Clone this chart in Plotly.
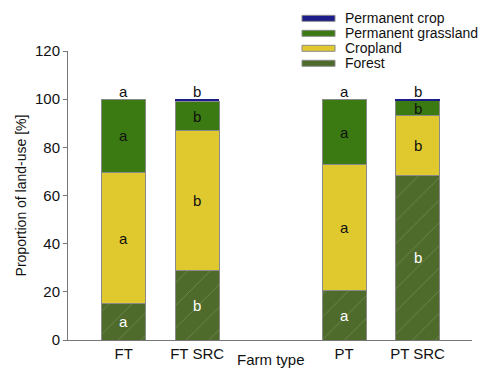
import plotly.graph_objects as go

categories = ["FT", "FT SRC", "PT", "PT SRC"]
positions = [0, 1, 3, 4]
forest = [15.0, 28.7, 20.7, 68.4]
cropland = [54.5, 58.2, 52.0, 24.7]
grassland = [30.5, 12.2, 27.3, 6.2]
perm_crop = [0.0, 0.9, 0.0, 0.7]

forest_letters = ["a", "b", "a", "b"]
cropland_letters = ["a", "b", "a", "b"]
grassland_letters = ["a", "b", "a", "b"]
perm_letters = ["a", "b", "a", "b"]

col_perm = "#1c1c8a"
col_grass = "#3b7a12"
col_crop = "#e0c92e"
col_forest = "#4e6b2b"
outline = "#8a8a8a"

fig = go.Figure()
W = 0.6
fig.add_trace(go.Bar(x=positions, y=forest, width=W, name="Forest",
                     marker=dict(color=col_forest, line=dict(color=outline, width=1),
                                 pattern=dict(shape="/", fgcolor="rgba(190,200,170,0.55)",
                                              size=16, solidity=0.06))))
fig.add_trace(go.Bar(x=positions, y=cropland, width=W, name="Cropland",
                     marker=dict(color=col_crop, line=dict(color=outline, width=1))))
fig.add_trace(go.Bar(x=positions, y=grassland, width=W, name="Permanent grassland",
                     marker=dict(color=col_grass, line=dict(color=outline, width=1))))
fig.add_trace(go.Bar(x=positions, y=perm_crop, width=W, name="Permanent crop",
                     marker=dict(color=col_perm, line=dict(width=0))))

font = "Liberation Sans, Arial, sans-serif"
anns = []
for i, p in enumerate(positions):
    b0 = 0
    segs = [(forest[i], forest_letters[i], "white"),
            (cropland[i], cropland_letters[i], "#111"),
            (grassland[i], grassland_letters[i], "#111")]
    for v, t, c in segs:
        anns.append(dict(x=p, y=b0 + v / 2, xref="x", yref="y", text=t, showarrow=False,
                         font=dict(family=font, size=15, color=c)))
        b0 += v
    top = b0 + perm_crop[i]
    anns.append(dict(x=p, y=top, xref="x", yref="y", text=perm_letters[i], showarrow=False,
                     yanchor="bottom", yshift=-3, font=dict(family=font, size=15, color="#111")))

anns.append(dict(x=2, y=0, xref="x", yref="paper", text="Farm type", showarrow=False,
                 yanchor="top", yshift=-9, font=dict(family=font, size=15, color="#111")))

# custom legend
legend_items = [("Permanent crop", col_perm), ("Permanent grassland", col_grass),
                ("Cropland", col_crop), ("Forest", col_forest)]
shapes = []
H = 289.3
for k, (name, col) in enumerate(legend_items):
    yc = 18 + k * 15
    y_top = 1 - (yc - 3 - 50.7) / H
    y_bot = 1 - (yc + 3 - 50.7) / H
    shapes.append(dict(type="rect", xref="paper", yref="paper",
                       x0=(302 - 68) / 404, x1=(335 - 68) / 404, y0=y_bot, y1=y_top,
                       fillcolor=col, line=dict(color=outline, width=1)))
    anns.append(dict(x=(343 - 68) / 404, y=1 - (yc - 50.7) / H, xref="paper", yref="paper",
                     text=name, showarrow=False, xanchor="left", yanchor="middle",
                     font=dict(family=font, size=14, color="#111")))

fig.update_layout(
    barmode="stack",
    width=491, height=370,
    margin=dict(l=68, r=19, t=51, b=30, autoexpand=False),
    paper_bgcolor="white", plot_bgcolor="white",
    showlegend=False,
    annotations=anns, shapes=shapes,
    font=dict(family=font, size=14, color="#111"),
    xaxis=dict(range=[-0.758, 4.742], tickvals=positions, ticktext=categories,
               showline=True, linecolor="#777", linewidth=1, ticks="", showgrid=False,
               zeroline=False, tickfont=dict(size=15), automargin=False),
    yaxis=dict(range=[0, 120], dtick=20, showline=True, linecolor="#777", linewidth=1,
               ticks="outside", ticklen=4, tickcolor="#777", showgrid=False, zeroline=False,
               title=dict(text="Proportion of land-use [%]", standoff=5, font=dict(size=14)),
               tickfont=dict(size=15), automargin=False),
)

fig.write_html("out.html", config={"displayModeBar": False},
               post_script="document.body.style.margin='0';document.body.style.overflow='hidden';")
